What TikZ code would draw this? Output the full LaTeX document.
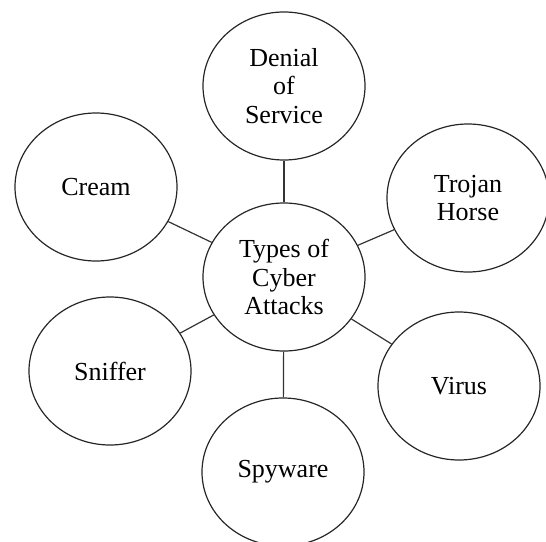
\documentclass[tikz,border=0pt]{standalone}
\usepackage{fontspec}
\setmainfont{Liberation Serif}
\usetikzlibrary{shapes.geometric, positioning}

\begin{document}
\begin{tikzpicture}[x=0.75pt, y=-0.75pt,
    bubble/.style={draw=black!85, line width=0.9pt, ellipse, inner sep=0pt,
        minimum width=121.5pt, minimum height=111pt, align=center,
        font=\fontsize{19.5}{21.5}\selectfont},
    link/.style={draw=black!80, line width=0.9pt}]
    \useasboundingbox (0,0) rectangle (546,542);
    %nodo centrale
    \node[bubble] (tipi) at (284,277) {Types of\\Cyber\\Attacks};
    %nodi esterni
    \node[bubble] (dos) at (284,86) {Denial\\of\\Service};
    \node[bubble] (trojan) at (468,198) {Trojan\\Horse};
    \node[bubble] (cream) at (96,187) {Cream};
    \node[bubble] (sniffer) at (110,371) {Sniffer};
    \node[bubble] (virus) at (459,386) {Virus};
    \node[bubble] (spyware) at (283,472) {Spyware};
    %collegamenti
    \draw[link] (tipi) -- (dos);
    \draw[link] (tipi) -- (trojan);
    \draw[link] (tipi) -- (cream);
    \draw[link] (tipi) -- (sniffer);
    \draw[link] (tipi) -- (virus);
    \draw[link] (tipi) -- (spyware);
\end{tikzpicture}
\end{document}
